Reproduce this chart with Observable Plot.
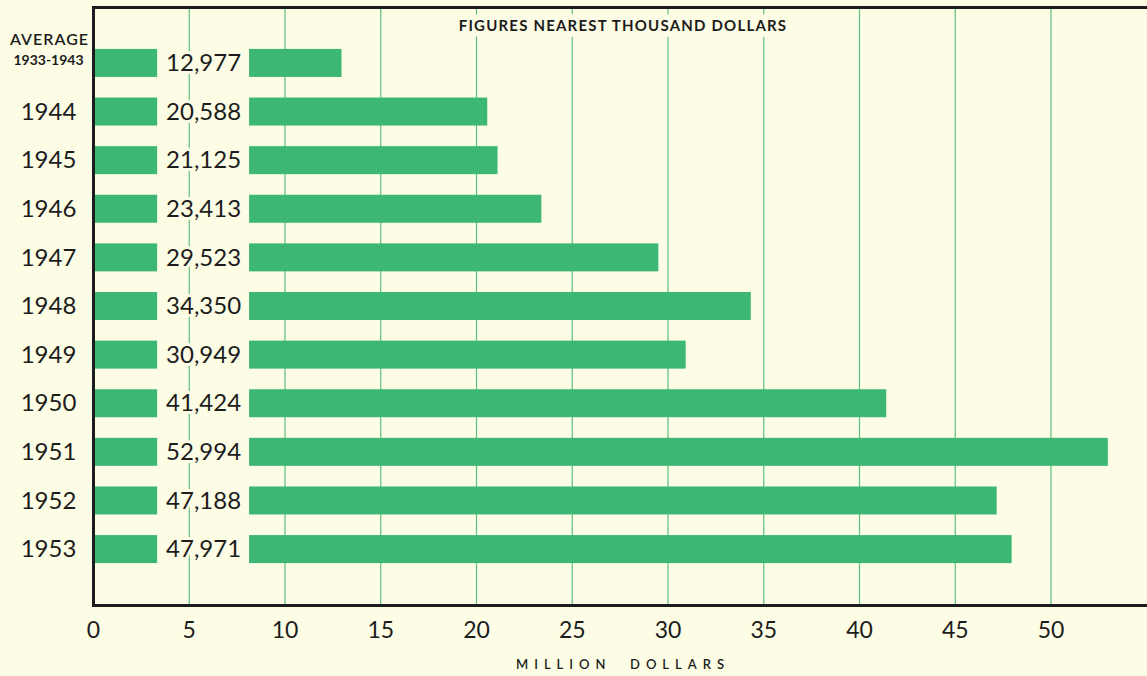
<!DOCTYPE html>
<html>
<head>
<meta charset="utf-8">
<script src="https://cdn.jsdelivr.net/npm/d3@7"></script>
<script src="https://cdn.jsdelivr.net/npm/@observablehq/plot@0.6"></script>
<style>
  html, body { margin: 0; padding: 0; background: #fdfde6; overflow: hidden; }
  #chart svg { display: block; }
</style>
</head>
<body>
<div id="chart"></div>
<script>
// Yearly totals, in thousand dollars
const categories = ["AVERAGE 1933-1943", "1944", "1945", "1946", "1947", "1948", "1949", "1950", "1951", "1952", "1953"];
const values = [12977, 20588, 21125, 23413, 29523, 34350, 30949, 41424, 52994, 47188, 47971];
const xTicks = [0, 5, 10, 15, 20, 25, 30, 35, 40, 45, 50];
const gridTicks = [5, 10, 15, 20, 25, 30, 35, 40, 45, 50];
const title = "FIGURES NEAREST THOUSAND DOLLARS";
const axisTitle = "MILLION\u00a0\u00a0DOLLARS";

const rows = categories.map((category, i) => ({category, value: values[i]}));

const bg = "#fdfde6";
const green = "#3db874";
const gridColor = "#5cbf83";
const ink = "#1c1c1c";

// Each bar is split so the value label sits in a gap near its base
const gapStart = 3.35, gapEnd = 8.15;
const fmt = d3.format(",");

const chart = Plot.plot({
  width: 1147,
  height: 676,
  marginLeft: 93,
  marginRight: -5,
  marginTop: 7,
  marginBottom: 71,
  style: {background: bg, fontFamily: "Lato, 'Noto Sans', sans-serif", color: ink, fontSize: "23px"},
  x: {domain: [0, 55.3], ticks: xTicks, tickSize: 0, tickPadding: 16, label: null, tickFormat: d => String(d)},
  y: {domain: categories, axis: null, paddingInner: 0.424, paddingOuter: 0.862, round: false},
  marks: [
    Plot.gridX(gridTicks, {stroke: gridColor, strokeOpacity: 1, strokeWidth: 1.2}),
    Plot.text([title], {frameAnchor: "top", dy: 13, fontSize: 15, fontWeight: 700, fill: ink, stroke: bg, strokeWidth: 12}),
    Plot.rectX(rows, {x1: 0, x2: gapStart, y: "category", fill: green}),
    Plot.rectX(rows, {x1: gapEnd, x2: d => d.value / 1000, y: "category", fill: green}),
    Plot.text(rows, {x: (gapStart + gapEnd) / 2, y: "category", text: d => fmt(d.value), fontSize: 24, fill: ink, stroke: bg, strokeWidth: 6}),
    Plot.text(rows.slice(1), {y: "category", text: "category", frameAnchor: "left", dx: -45, textAnchor: "middle", fontSize: 24, fill: ink}),
    Plot.text(rows.slice(0, 1), {y: "category", text: () => "AVERAGE", frameAnchor: "left", dx: -44, dy: -24, textAnchor: "middle", fontSize: 16, fontWeight: 600, fill: ink}),
    Plot.text(rows.slice(0, 1), {y: "category", text: () => "1933-1943", frameAnchor: "left", dx: -45, dy: -3, textAnchor: "middle", fontSize: 14, fontWeight: 700, fill: ink}),
    Plot.text([axisTitle], {frameAnchor: "bottom", dy: 63, fontSize: 13, fontWeight: 600, fill: ink}),
    Plot.frame({stroke: ink, strokeWidth: 3})
  ]
});

const byText = s => d3.select(chart).selectAll("text").filter(function() { return this.textContent === s; });
byText(axisTitle).attr("letter-spacing", 6);
byText(title).attr("letter-spacing", 1.2);
byText("AVERAGE").attr("letter-spacing", 1);

document.getElementById("chart").appendChild(chart);
</script>
</body>
</html>
